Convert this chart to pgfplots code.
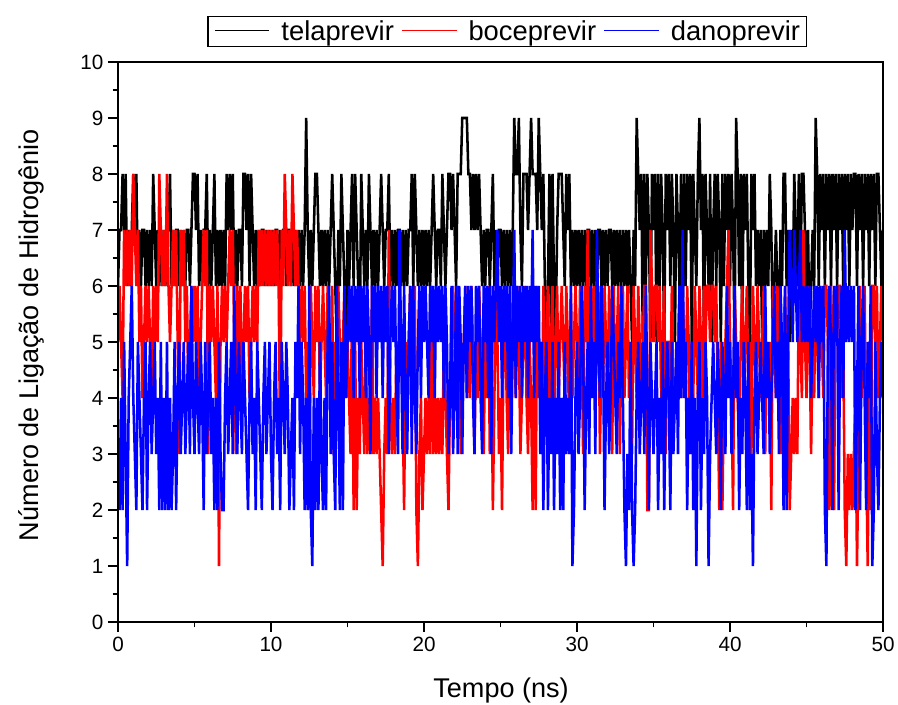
\documentclass[border=0pt]{standalone}
\usepackage{pgfplots}
\usepackage{pgfplotstable}
\pgfplotsset{compat=1.18}
\usepackage{fontspec}
\setmainfont{Liberation Sans}

% telaprevir, one value every 0.1 ns (0 to 50 ns)
\pgfplotstableread[row sep=\\]{y\\
6\\7\\7\\8\\7\\8\\6\\7\\6\\7\\
8\\7\\8\\6\\7\\6\\7\\7\\6\\7\\
6\\7\\6\\8\\7\\6\\7\\6\\7\\6\\
7\\6\\7\\7\\8\\6\\7\\6\\7\\7\\
6\\7\\6\\7\\6\\7\\7\\6\\7\\8\\
8\\7\\8\\6\\7\\6\\7\\7\\8\\6\\
7\\6\\7\\8\\6\\7\\6\\7\\6\\7\\
6\\8\\7\\8\\7\\8\\6\\7\\6\\7\\
7\\6\\8\\8\\7\\8\\6\\8\\7\\6\\
7\\6\\7\\6\\7\\7\\6\\7\\6\\7\\
6\\7\\6\\7\\7\\6\\7\\6\\7\\7\\
6\\7\\7\\6\\7\\6\\7\\6\\7\\6\\
7\\6\\7\\9\\7\\6\\7\\6\\7\\8\\
8\\7\\6\\7\\6\\7\\6\\7\\6\\7\\
8\\7\\6\\5\\7\\6\\8\\7\\6\\5\\
7\\6\\7\\8\\6\\8\\7\\6\\5\\8\\
7\\6\\7\\6\\8\\7\\6\\7\\6\\7\\
6\\7\\8\\7\\6\\7\\7\\8\\6\\7\\
6\\7\\6\\7\\7\\6\\7\\6\\7\\6\\
7\\7\\8\\6\\8\\7\\6\\7\\6\\7\\
6\\7\\6\\7\\6\\7\\8\\7\\6\\7\\
7\\6\\8\\7\\6\\7\\8\\8\\7\\8\\
7\\6\\8\\8\\8\\9\\9\\9\\9\\8\\
8\\7\\8\\7\\8\\7\\8\\7\\6\\7\\
6\\7\\7\\6\\7\\8\\6\\7\\6\\7\\
7\\6\\7\\6\\7\\6\\7\\6\\7\\9\\
8\\8\\9\\7\\6\\8\\8\\8\\7\\8\\
9\\8\\8\\8\\7\\9\\8\\7\\8\\6\\
5\\6\\8\\5\\8\\6\\5\\7\\8\\8\\
8\\7\\6\\8\\7\\8\\6\\7\\6\\7\\
6\\7\\6\\7\\6\\7\\6\\7\\7\\6\\
7\\6\\7\\6\\7\\7\\6\\7\\6\\7\\
6\\7\\7\\6\\7\\6\\7\\6\\7\\6\\
7\\6\\7\\6\\7\\6\\5\\7\\6\\9\\
8\\7\\8\\5\\8\\6\\8\\7\\5\\8\\
7\\8\\5\\8\\6\\8\\7\\5\\8\\7\\
8\\6\\8\\7\\5\\8\\7\\6\\8\\5\\
8\\6\\8\\7\\8\\5\\8\\7\\6\\8\\
9\\7\\8\\5\\8\\7\\6\\8\\5\\7\\
8\\6\\8\\7\\5\\8\\6\\8\\7\\8\\
6\\8\\7\\5\\9\\8\\6\\8\\5\\8\\
7\\8\\6\\5\\8\\7\\8\\6\\7\\6\\
7\\5\\7\\6\\7\\6\\8\\7\\5\\6\\
7\\6\\5\\7\\6\\8\\8\\6\\7\\5\\
7\\6\\8\\7\\6\\8\\6\\8\\8\\7\\
6\\7\\5\\6\\7\\6\\9\\8\\6\\8\\
7\\8\\6\\8\\7\\8\\6\\8\\7\\8\\
6\\8\\7\\8\\6\\8\\7\\8\\6\\8\\
7\\8\\8\\6\\8\\7\\8\\6\\8\\7\\
8\\6\\8\\7\\8\\6\\8\\8\\7\\6\\
7\\
}\tela

% boceprevir
\pgfplotstableread[row sep=\\]{y\\
5\\6\\5\\4\\7\\6\\7\\6\\7\\6\\
8\\7\\6\\7\\5\\6\\4\\5\\6\\5\\
6\\5\\4\\6\\5\\6\\5\\8\\7\\6\\
7\\6\\8\\6\\5\\6\\7\\6\\7\\5\\
3\\7\\6\\7\\5\\6\\4\\5\\6\\5\\
6\\5\\6\\4\\5\\6\\7\\6\\7\\3\\
6\\5\\6\\5\\4\\6\\1\\5\\6\\5\\
6\\5\\6\\7\\6\\7\\5\\3\\6\\5\\
6\\4\\5\\6\\5\\6\\4\\5\\6\\5\\
6\\5\\7\\6\\7\\6\\7\\6\\7\\6\\
7\\6\\7\\6\\7\\6\\3\\7\\6\\8\\
7\\6\\7\\6\\8\\7\\6\\7\\6\\5\\
6\\5\\6\\4\\5\\2\\6\\5\\4\\6\\
5\\6\\4\\5\\6\\5\\4\\6\\5\\4\\
6\\3\\5\\4\\6\\5\\4\\5\\6\\4\\
5\\4\\3\\6\\2\\5\\2\\4\\3\\5\\
4\\3\\5\\3\\4\\3\\6\\3\\4\\3\\
4\\3\\2\\1\\3\\4\\3\\7\\4\\3\\
4\\3\\5\\4\\6\\5\\4\\2\\5\\4\\
5\\6\\4\\5\\6\\2\\1\\3\\4\\2\\
3\\4\\3\\4\\3\\6\\3\\4\\3\\4\\
3\\4\\3\\5\\4\\3\\2\\4\\5\\6\\
5\\4\\6\\5\\3\\4\\5\\6\\4\\5\\
4\\6\\5\\3\\5\\4\\6\\5\\4\\3\\
5\\4\\6\\3\\5\\2\\4\\6\\5\\3\\
4\\2\\5\\6\\4\\3\\5\\4\\6\\5\\
4\\6\\5\\3\\4\\5\\6\\4\\3\\5\\
4\\2\\5\\2\\6\\4\\5\\3\\6\\4\\
5\\6\\4\\5\\6\\3\\5\\6\\4\\5\\
6\\5\\4\\6\\5\\3\\6\\4\\5\\6\\
5\\4\\6\\5\\3\\6\\5\\7\\4\\6\\
5\\6\\4\\5\\6\\3\\5\\4\\6\\5\\
4\\6\\5\\3\\6\\4\\5\\6\\3\\5\\
6\\4\\5\\6\\4\\5\\3\\6\\5\\4\\
6\\5\\4\\5\\6\\6\\2\\2\\7\\6\\
5\\6\\6\\5\\6\\4\\5\\6\\3\\5\\
5\\4\\6\\4\\4\\4\\5\\6\\4\\6\\
5\\4\\6\\5\\3\\5\\4\\6\\5\\4\\
6\\5\\4\\6\\5\\6\\6\\5\\6\\6\\
5\\6\\4\\2\\5\\2\\4\\5\\6\\7\\
5\\4\\2\\6\\5\\4\\3\\5\\6\\4\\
5\\6\\4\\5\\3\\6\\5\\4\\6\\5\\
4\\5\\6\\3\\5\\4\\5\\2\\6\\5\\
4\\6\\5\\3\\4\\5\\6\\4\\5\\2\\
3\\4\\3\\4\\3\\6\\5\\4\\7\\5\\
4\\6\\5\\3\\5\\4\\6\\5\\4\\6\\
5\\4\\6\\6\\5\\2\\6\\5\\2\\6\\
5\\6\\6\\4\\5\\2\\1\\3\\2\\3\\
2\\3\\4\\1\\3\\6\\4\\5\\6\\3\\
1\\4\\2\\6\\6\\5\\6\\4\\5\\6\\
5\\
}\boce

% danoprevir
\pgfplotstableread[row sep=\\]{y\\
3\\2\\4\\2\\5\\3\\1\\4\\5\\6\\
4\\3\\2\\5\\4\\3\\2\\4\\5\\2\\
4\\5\\3\\4\\5\\3\\4\\2\\5\\2\\
4\\2\\5\\2\\4\\2\\3\\5\\2\\4\\
5\\3\\4\\5\\3\\4\\5\\3\\6\\4\\
3\\5\\4\\3\\5\\4\\2\\5\\3\\4\\
5\\3\\4\\2\\4\\2\\5\\3\\2\\2\\
4\\5\\3\\4\\5\\3\\6\\4\\3\\5\\
4\\3\\5\\4\\3\\2\\4\\5\\3\\4\\
2\\5\\4\\3\\2\\4\\5\\3\\4\\5\\
3\\2\\4\\5\\3\\4\\2\\5\\4\\3\\
5\\4\\2\\3\\4\\2\\5\\4\\6\\3\\
5\\4\\2\\4\\2\\6\\2\\1\\4\\2\\
4\\2\\5\\3\\2\\4\\2\\5\\6\\3\\
5\\3\\2\\6\\4\\2\\5\\2\\6\\4\\
5\\6\\5\\6\\4\\6\\5\\6\\4\\6\\
5\\6\\4\\6\\5\\3\\6\\5\\6\\4\\
6\\5\\6\\4\\6\\5\\6\\3\\5\\6\\
5\\6\\4\\3\\7\\5\\3\\6\\4\\3\\
5\\6\\3\\6\\4\\3\\5\\6\\4\\6\\
5\\6\\5\\4\\6\\5\\6\\4\\6\\5\\
6\\5\\6\\4\\6\\5\\3\\4\\6\\3\\
4\\6\\3\\6\\5\\3\\5\\6\\4\\6\\
5\\6\\4\\3\\6\\5\\6\\4\\3\\6\\
5\\6\\4\\6\\3\\6\\5\\6\\7\\5\\
6\\4\\6\\5\\6\\4\\6\\3\\5\\7\\
4\\6\\5\\6\\4\\6\\5\\6\\4\\6\\
5\\7\\4\\6\\5\\6\\3\\5\\2\\4\\
5\\2\\4\\3\\5\\2\\4\\3\\5\\2\\
4\\2\\5\\3\\4\\3\\6\\1\\2\\4\\
5\\3\\4\\6\\5\\2\\4\\5\\3\\6\\
4\\5\\3\\7\\5\\4\\6\\5\\2\\4\\
5\\3\\4\\6\\5\\4\\3\\5\\4\\6\\
4\\2\\1\\3\\2\\5\\2\\1\\2\\4\\
5\\3\\4\\5\\3\\6\\4\\2\\5\\4\\
3\\4\\5\\2\\4\\3\\5\\2\\4\\5\\
4\\2\\5\\3\\4\\5\\3\\6\\4\\7\\
4\\5\\2\\4\\3\\5\\2\\4\\1\\4\\
5\\2\\4\\3\\5\\4\\1\\3\\4\\5\\
4\\3\\5\\4\\2\\5\\4\\3\\6\\4\\
5\\3\\4\\6\\4\\5\\2\\4\\3\\5\\
4\\2\\5\\2\\3\\1\\4\\5\\3\\4\\
5\\4\\3\\6\\4\\5\\3\\4\\5\\6\\
4\\5\\3\\6\\5\\2\\6\\2\\5\\7\\
6\\5\\7\\6\\5\\6\\7\\5\\6\\5\\
6\\5\\6\\4\\5\\6\\5\\6\\4\\6\\
5\\6\\2\\1\\5\\6\\5\\2\\6\\5\\
6\\2\\5\\6\\4\\7\\5\\6\\5\\6\\
5\\6\\2\\4\\6\\2\\5\\6\\4\\2\\
5\\4\\6\\1\\2\\5\\3\\2\\4\\5\\
4\\
}\dano

\newcommand{\legline}[1]{\textcolor{#1}{\rule[0.33em]{41pt}{0.8pt}}\hspace{9pt}}

\begin{document}
\begin{tikzpicture}
\useasboundingbox (-88.5pt,-62.25pt) rectangle (585pt,466.5pt);
\begin{axis}[
  at={(0pt,0pt)}, anchor=south west,
  scale only axis, width=573.75pt, height=420pt,
  xmin=0, xmax=50, ymin=0, ymax=10,
  xtick={0,10,...,50}, ytick={0,1,...,10},
  minor x tick num=1, minor y tick num=1,
  tick align=outside, tick pos=left,
  major tick length=7.5pt, minor tick length=4pt,
  axis on top=true,
  axis line style={line width=1.5pt, black},
  every tick/.style={line width=1.2pt, black},
  tick label style={font=\fontsize{15.5}{18}\selectfont},
  /pgf/number format/assume math mode=true,
  xlabel={Tempo (ns)},
  ylabel={Número de Ligação de Hidrogênio},
  label style={font=\fontsize{20.3}{24}\selectfont},
  xlabel style={at={(axis description cs:0.5007,-0.1357)}, anchor=base},
  ylabel style={at={(axis description cs:-0.1137,0.5125)}, anchor=center},
  legend columns=3,
  legend style={at={(axis description cs:0.509,1.0268)}, anchor=south,
    draw=black, line width=1pt, fill=white, inner xsep=3pt, inner ysep=1pt,
    font=\fontsize{20.5}{24}\selectfont,
    /tikz/every even column/.append style={column sep=2pt}},
]
\addplot[black, line width=1.9pt, forget plot] table[x expr=\coordindex*0.1, y=y] {\tela};
\addplot[red, line width=1.9pt, forget plot] table[x expr=\coordindex*0.1, y=y] {\boce};
\addplot[blue, line width=1.9pt, forget plot] table[x expr=\coordindex*0.1, y=y] {\dano};
\addlegendimage{empty legend}
\addlegendentry{\legline{black}telaprevir}
\addlegendimage{empty legend}
\addlegendentry{\legline{red}boceprevir}
\addlegendimage{empty legend}
\addlegendentry{\legline{blue}danoprevir}
\end{axis}
\end{tikzpicture}
\end{document}
